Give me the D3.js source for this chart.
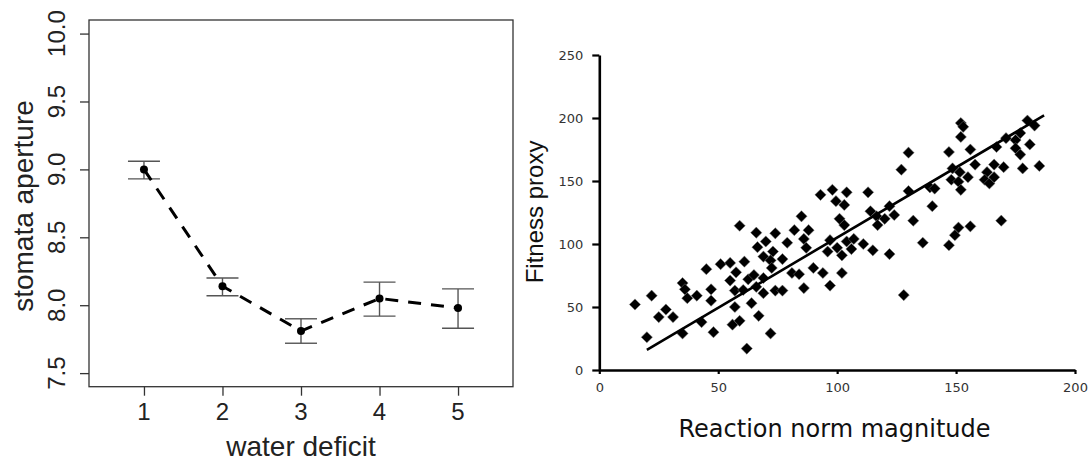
<!DOCTYPE html>
<html>
<head>
<meta charset="utf-8">
<script src="https://cdn.jsdelivr.net/npm/d3@7"></script>
<style>
  html, body { margin: 0; padding: 0; background: #fff; }
  svg { display: block; }
</style>
</head>
<body>
<svg id="chart" width="1088" height="461"></svg>
<script>
// ---------- Left panel data ----------
const deficitLevels = [1, 2, 3, 4, 5];
const apertureMean  = [9.00, 8.14, 7.81, 8.05, 7.98];
const apertureUpper = [9.06, 8.20, 7.90, 8.17, 8.12];
const apertureLower = [8.93, 8.07, 7.72, 7.92, 7.83];
const leftYTicks = [7.5, 8.0, 8.5, 9.0, 9.5, 10.0];
const leftXTicks = [1, 2, 3, 4, 5];

// ---------- Right panel data ----------
const reactionNorm = [
  15,22,20,28,25,31,35,36,37,41,35,43,45,47,47,48,51,55,57.5,55,61,59,66,57,57,60.5,64,56,59,62,62.6,65,66,67,66.5,
  127,93,98,104,99.5,103,113,130,85,101,103,114,116.6,120,122,124,117,74,82,88,70,79,86,73,69,87,77,72,72.5,69,81,84,90,94,97,100,96,102,104,107,106,111,115,122,102,86,97,74,77,69,72,128,
  152,153,152,130,147,156,139,141,148.5,148,151.6,155,151,152,158,163,166,170,162,164,166,167,171,175,177,175,177,181,180,183,178,185,140,132,169,151,156,149.5,136,147
];
const fitnessProxy = [
  52,59,26,48,42,42,69,64,57,59,29,38,80,64,55,30,84,85,77.5,71,86,114.5,109,63,50,63.5,53,36,39,17,72,75.4,66,43,97.5,
  159,139,143,141,134,131,141,142,122,120,115,126,122,120,130,123,115,108.5,111,111,102,101,104,94,90,97,88,87,81,73,77,76,81,77,103,97,94,91,102,104,96,100,95,92,77,65,67,63,63,61,29,59.5,
  196,193,185,172.5,173,175,145,144,160,151,157,153,149.5,143,163,157,163,161,151,148,153,177,184,182.5,188,176,171,179,198,194,160,162,130,118.5,118.5,113,114,107,101,99
];
const fitX = [20, 187];
const fitY = [16, 202];
const rightXTicks = [0, 50, 100, 150, 200];
const rightYTicks = [0, 50, 100, 150, 200, 250];

const svg = d3.select("#chart");

// ================= LEFT PANEL =================
const L = { left: 89, right: 513, top: 20, bottom: 386.7 };
const xL = d3.scaleLinear().domain([0.3, 5.7]).range([L.left, L.right]);
const yL = d3.scaleLinear().domain([7.4, 10.1]).range([L.bottom, L.top]);
const gL = svg.append("g");
const leftFont = "'Liberation Sans', Arial, Helvetica, sans-serif";

gL.append("rect")
  .attr("x", L.left).attr("y", L.top)
  .attr("width", L.right - L.left).attr("height", L.bottom - L.top)
  .attr("fill", "none").attr("stroke", "#333").attr("stroke-width", 1.3);

// y axis (ticks + rotated labels)
const yAxisL = d3.axisLeft(yL).tickValues(leftYTicks).tickSize(9).tickFormat(d3.format(".1f"));
const gyL = gL.append("g").attr("transform", `translate(${L.left},0)`).call(yAxisL);
gyL.select(".domain").remove();
gyL.selectAll(".tick line").attr("stroke", "#333").attr("stroke-width", 1.3);
gyL.selectAll(".tick text").remove();
gL.selectAll("text.ylab").data(leftYTicks).enter().append("text")
  .attr("class", "ylab")
  .attr("x", 65.5).attr("y", d => yL(d))
  .attr("transform", d => `rotate(-90,65.5,${yL(d)})`)
  .attr("text-anchor", "middle")
  .attr("font-family", leftFont).attr("font-size", 24).attr("fill", "#222")
  .text(d => d3.format(".1f")(d));

// x axis
const xAxisL = d3.axisBottom(xL).tickValues(leftXTicks).tickSize(9).tickFormat(d3.format("d"));
const gxL = gL.append("g").attr("transform", `translate(0,${L.bottom})`).call(xAxisL);
gxL.select(".domain").remove();
gxL.selectAll(".tick line").attr("stroke", "#333").attr("stroke-width", 1.3);
gxL.selectAll(".tick text").remove();
gL.selectAll("text.xlab").data(leftXTicks).enter().append("text")
  .attr("class", "xlab")
  .attr("x", d => xL(d)).attr("y", 420)
  .attr("text-anchor", "middle")
  .attr("font-family", leftFont).attr("font-size", 24).attr("fill", "#222")
  .text(d => d);

// axis titles
gL.append("text")
  .attr("x", (L.left + L.right) / 2).attr("y", 456)
  .attr("text-anchor", "middle")
  .attr("font-family", leftFont).attr("font-size", 28).attr("fill", "#222")
  .text("water deficit");
gL.append("text")
  .attr("x", 32.8).attr("y", 206)
  .attr("transform", "rotate(-90,32.8,206)")
  .attr("text-anchor", "middle")
  .attr("font-family", leftFont).attr("font-size", 28).attr("fill", "#222")
  .text("stomata aperture");

// error bars
const capHalf = 16;
const eb = gL.append("g").attr("stroke", "#555").attr("stroke-width", 1.4).attr("fill", "none");
deficitLevels.forEach((d, i) => {
  const cx = xL(d);
  eb.append("line").attr("x1", cx).attr("x2", cx).attr("y1", yL(apertureLower[i])).attr("y2", yL(apertureUpper[i]));
  eb.append("line").attr("x1", cx - capHalf).attr("x2", cx + capHalf).attr("y1", yL(apertureUpper[i])).attr("y2", yL(apertureUpper[i]));
  eb.append("line").attr("x1", cx - capHalf).attr("x2", cx + capHalf).attr("y1", yL(apertureLower[i])).attr("y2", yL(apertureLower[i]));
});

// dashed line
const lineL = d3.line().x((d, i) => xL(deficitLevels[i])).y(d => yL(d));
gL.append("path").datum(apertureMean)
  .attr("d", lineL)
  .attr("fill", "none").attr("stroke", "#000").attr("stroke-width", 3)
  .attr("stroke-dasharray", "13,10");

// points
gL.selectAll("circle.mean").data(apertureMean).enter().append("circle")
  .attr("class", "mean")
  .attr("cx", (d, i) => xL(deficitLevels[i])).attr("cy", d => yL(d))
  .attr("r", 4).attr("fill", "#000");

// ================= RIGHT PANEL =================
const R = { left: 599.3, right: 1075, top: 55, bottom: 370 };
const xR = d3.scaleLinear().domain([0, 200]).range([R.left, R.right]);
const yR = d3.scaleLinear().domain([0, 250]).range([R.bottom, R.top]);
const gR = svg.append("g");
const rightFont = "'DejaVu Sans', sans-serif";

// points (diamonds)
const dh = 5.6;
const diamond = `M0,${-dh}L${dh},0L0,${dh}L${-dh},0Z`;
const pts = reactionNorm.map((x, i) => ({ x, y: fitnessProxy[i] }));
gR.append("g").selectAll("path").data(pts).enter().append("path")
  .attr("d", diamond)
  .attr("transform", d => `translate(${xR(d.x)},${yR(d.y)})`)
  .attr("fill", "#000").attr("stroke", "#777").attr("stroke-width", 0.5);

// regression line
gR.append("line")
  .attr("x1", xR(fitX[0])).attr("y1", yR(fitY[0]))
  .attr("x2", xR(fitX[1])).attr("y2", yR(fitY[1]))
  .attr("stroke", "#000").attr("stroke-width", 2.6);

// axes
const yAxisR = d3.axisLeft(yR).tickValues(rightYTicks).tickSize(7).tickSizeOuter(0).tickPadding(9);
const gyR = gR.append("g").attr("transform", `translate(${R.left},0)`).call(yAxisR);
gyR.select(".domain").attr("stroke", "#000").attr("stroke-width", 2.6);
gyR.selectAll(".tick line").attr("stroke", "#000").attr("stroke-width", 2.2);
gyR.selectAll(".tick text").attr("font-family", rightFont).attr("font-size", 13).attr("fill", "#333");

const xAxisR = d3.axisBottom(xR).tickValues(rightXTicks).tickSize(4).tickSizeOuter(0).tickPadding(9);
const gxR = gR.append("g").attr("transform", `translate(0,${R.bottom})`).call(xAxisR);
gxR.select(".domain").attr("stroke", "#000").attr("stroke-width", 2.6);
gxR.selectAll(".tick line").attr("stroke", "#000").attr("stroke-width", 2.2);
gxR.selectAll(".tick text").attr("font-family", rightFont).attr("font-size", 13).attr("fill", "#333");

// titles
gR.append("text")
  .attr("x", 834.5).attr("y", 437.3)
  .attr("text-anchor", "middle")
  .attr("font-family", rightFont).attr("font-size", 24).attr("fill", "#111")
  .text("Reaction norm magnitude");
gR.append("text")
  .attr("x", 543).attr("y", 283.3)
  .attr("transform", "rotate(-90,543,283.3)")
  .attr("text-anchor", "start")
  .attr("font-family", leftFont).attr("font-size", 24).attr("fill", "#111")
  .text("Fitness proxy");
</script>
</body>
</html>
